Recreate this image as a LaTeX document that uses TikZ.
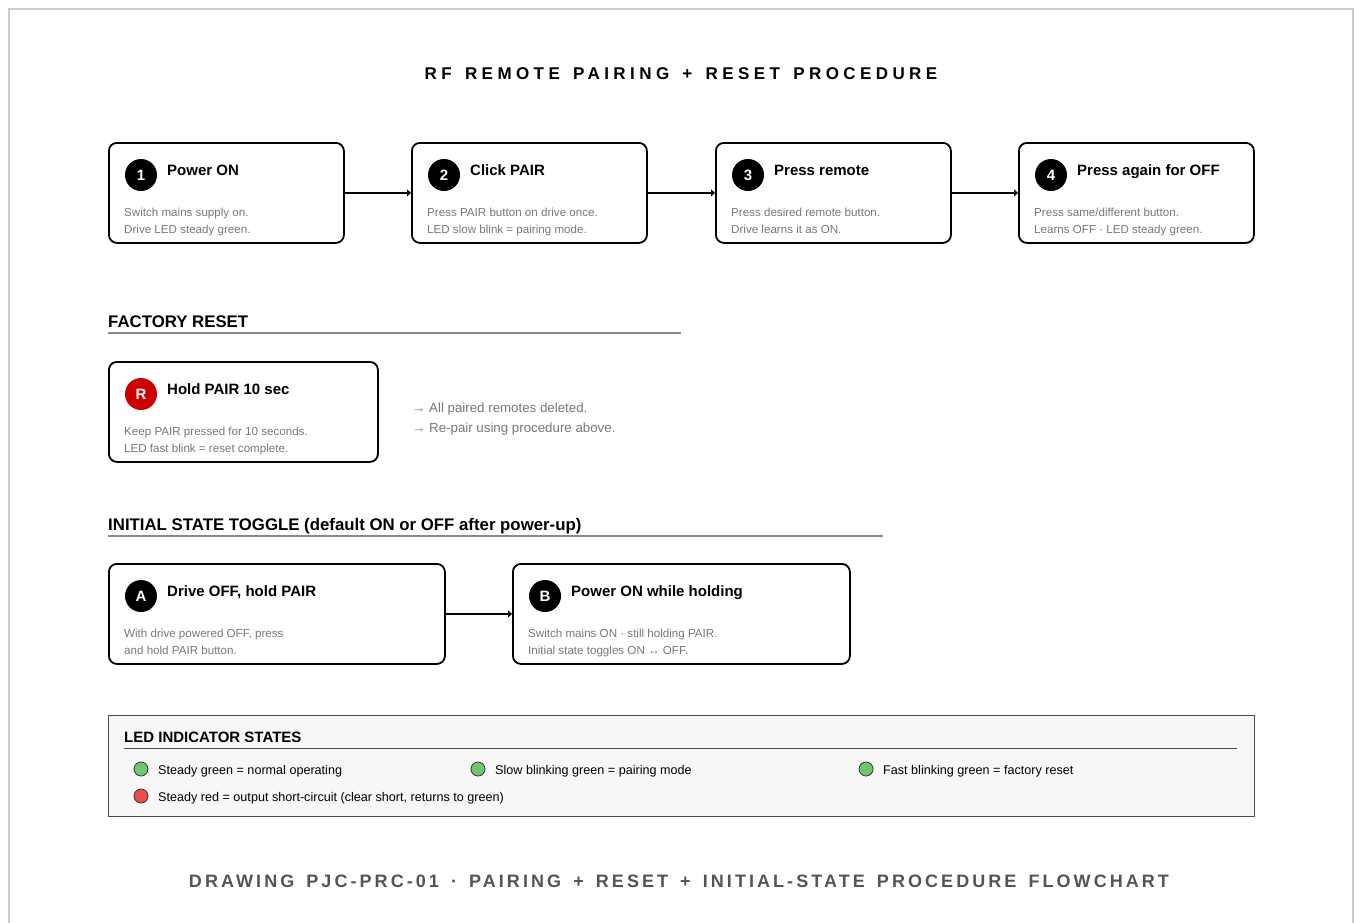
\documentclass[tikz,border=0pt]{standalone}
\usepackage{fontspec}
\setmainfont{Liberation Sans}
\newfontfamily\headfont[LetterSpace=26,WordSpace=1.45]{Liberation Sans Bold}
\newfontfamily\footfont[LetterSpace=17,WordSpace=1.5]{Liberation Sans Bold}
\usetikzlibrary{arrows.meta,positioning}
\definecolor{notegray}{HTML}{777777}
\definecolor{rulegray}{HTML}{888888}
\definecolor{framegray}{HTML}{CCCCCC}
\definecolor{panelfill}{HTML}{F7F7F7}
\definecolor{ledgreen}{HTML}{6FC86F}
\definecolor{ledred}{HTML}{EE4B4B}
\definecolor{resetred}{HTML}{CC0000}

\begin{document}
\begin{tikzpicture}[x=1pt,y=-1pt,
    stepbox/.style={draw,line width=1.8pt,rounded corners=8pt,anchor=north west,
        inner sep=0pt,minimum width=235pt,minimum height=100pt},
    badge/.style={circle,fill=black,text=white,inner sep=0pt,minimum size=32pt,
        font=\fontsize{15}{15}\bfseries},
    steptitle/.style={anchor=base west,inner sep=0pt,font=\fontsize{15}{15}\bfseries},
    stepnote/.style={anchor=base west,inner sep=0pt,text=notegray,
        font=\fontsize{11.6}{14}\selectfont},
    sidenote/.style={anchor=base west,inner sep=0pt,text=notegray,
        font=\fontsize{13.3}{16}\selectfont},
    sechead/.style={anchor=base west,inner sep=0pt,font=\fontsize{16.8}{18}\bfseries},
    secrule/.style={draw=rulegray,line width=1.2pt},
    pairarrow/.style={line width=1.8pt,-{Triangle[length=4pt,width=7pt]}},
    led/.style={circle,draw=black!80,line width=0.8pt,inner sep=0pt,minimum size=14pt},
    ledtext/.style={anchor=base west,inner sep=0pt,font=\fontsize{12.6}{14}\selectfont}]
\useasboundingbox (0,0) rectangle (1356,922);
\draw[framegray,line width=2pt] (9,940) -- (9,9) -- (1353,9) -- (1353,940);

% title
\node[anchor=base,font=\headfont\fontsize{17}{17}\selectfont] (title) at (681,79)
    {RF REMOTE PAIRING + RESET PROCEDURE};

% pairing steps
\foreach \n/\x/\ttl/\la/\lb in {
    1/108/Power ON/Switch mains supply on./Drive LED steady green.,
    2/411/Click PAIR/Press PAIR button on drive once./LED slow blink = pairing mode.,
    3/715/Press remote/Press desired remote button./Drive learns it as ON.,
    4/1018/Press again for OFF/{Press same/different button.}/Learns OFF · LED steady green.}
{
    \node[stepbox] (s\n) at (\x,142) {};
    \node[badge] (b\n) at ([xshift=33pt,yshift=-33pt]s\n.north west) {\n};
    \node[steptitle] (t\n) at ([xshift=59pt,yshift=-33pt]s\n.north west) {\ttl};
    \node[stepnote] (n\n a) at ([xshift=16pt,yshift=-74pt]s\n.north west) {\la};
    \node[stepnote] (n\n b) at ([xshift=16pt,yshift=-91pt]s\n.north west) {\lb};
}
\foreach \a/\b in {1/2,2/3,3/4}
    \draw[pairarrow] (s\a) -- (s\b);

% factory reset
\node[sechead] (fr) at (108,327) {FACTORY RESET};
\draw[secrule] (108,333) -- (681,333);
\node[stepbox,minimum width=269pt] (r) at (108,361) {};
\node[badge,fill=resetred] (br) at ([xshift=33pt,yshift=-33pt]r.north west) {R};
\node[steptitle] (tr) at ([xshift=59pt,yshift=-33pt]r.north west) {Hold PAIR 10 sec};
\node[stepnote] (nra) at ([xshift=16pt,yshift=-74pt]r.north west) {Keep PAIR pressed for 10 seconds.};
\node[stepnote] (nrb) at ([xshift=16pt,yshift=-91pt]r.north west) {LED fast blink = reset complete.};
\node[sidenote] (ra) at (412,412) {→ All paired remotes deleted.};
\node[sidenote] (rb) at (412,432) {→ Re-pair using procedure above.};

% initial state toggle
\node[sechead] (it) at (108,530) {INITIAL STATE TOGGLE (default ON or OFF after power-up)};
\draw[secrule] (108,536) -- (883,536);
\node[stepbox,minimum width=336pt] (sa) at (108,563) {};
\node[badge] (ba) at ([xshift=33pt,yshift=-33pt]sa.north west) {A};
\node[steptitle] (ta) at ([xshift=59pt,yshift=-33pt]sa.north west) {Drive OFF, hold PAIR};
\node[stepnote] (naa) at ([xshift=16pt,yshift=-74pt]sa.north west) {With drive powered OFF, press};
\node[stepnote] (nab) at ([xshift=16pt,yshift=-91pt]sa.north west) {and hold PAIR button.};
\node[stepbox,minimum width=337pt] (sb) at (512,563) {};
\node[badge] (bb) at ([xshift=33pt,yshift=-33pt]sb.north west) {B};
\node[steptitle] (tb) at ([xshift=59pt,yshift=-33pt]sb.north west) {Power ON while holding};
\node[stepnote] (nba) at ([xshift=16pt,yshift=-74pt]sb.north west) {Switch mains ON · still holding PAIR.};
\node[stepnote] (nbb) at ([xshift=16pt,yshift=-91pt]sb.north west) {Initial state toggles ON ↔ OFF.};
\draw[pairarrow] (sa) -- (sb);

% LED legend
\node[draw=black!70,fill=panelfill,line width=1pt,anchor=north west,inner sep=0pt,
    minimum width=1146pt,minimum height=101pt] (panel) at (108,715) {};
\node[anchor=base west,inner sep=0pt,font=\fontsize{15}{15}\bfseries] (lt) at (124,742)
    {LED INDICATOR STATES};
\draw[draw=black!70,line width=1pt] (124,748) -- (1237,748);
\node[led,fill=ledgreen] (d1) at (141,769) {};
\node[ledtext] (l1) at (158,774) {Steady green = normal operating};
\node[led,fill=ledgreen] (d2) at (478,769) {};
\node[ledtext] (l2) at (495,774) {Slow blinking green = pairing mode};
\node[led,fill=ledgreen] (d3) at (866,769) {};
\node[ledtext] (l3) at (883,774) {Fast blinking green = factory reset};
\node[led,fill=ledred] (d4) at (141,796) {};
\node[ledtext] (l4) at (158,801) {Steady red = output short-circuit (clear short, returns to green)};

% footer
\node[anchor=base,text=black!67,font=\footfont\fontsize{18}{18}\selectfont] (foot) at (679,887)
    {DRAWING PJC-PRC-01 · PAIRING + RESET + INITIAL-STATE PROCEDURE FLOWCHART};
\end{tikzpicture}
\end{document}
